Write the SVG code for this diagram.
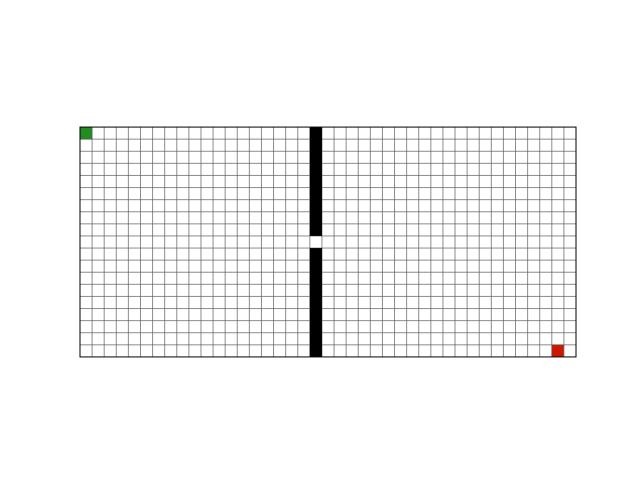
<svg xmlns="http://www.w3.org/2000/svg" width="640" height="480" viewBox="0 0 640 480">
<style>
.grid{fill:none;stroke:#5a5a5a;stroke-width:0.7}
.border{fill:none;stroke:#000;stroke-width:1}
</style>
<rect x="0" y="0" width="640" height="480" fill="#fff"/>
<g id="cells">
<rect id="start" x="80" y="127.073" width="12.098" height="12.098" fill="#228b22"/>
<rect id="goal" x="551.805" y="344.829" width="12.098" height="12.098" fill="#cc1800"/>
</g>
<path class="grid" d="M92.098 127.073V356.927M104.195 127.073V356.927M116.293 127.073V356.927M128.390 127.073V356.927M140.488 127.073V356.927M152.585 127.073V356.927M164.683 127.073V356.927M176.780 127.073V356.927M188.878 127.073V356.927M200.976 127.073V356.927M213.073 127.073V356.927M225.171 127.073V356.927M237.268 127.073V356.927M249.366 127.073V356.927M261.463 127.073V356.927M273.561 127.073V356.927M285.659 127.073V356.927M297.756 127.073V356.927M309.854 127.073V356.927M321.951 127.073V356.927M334.049 127.073V356.927M346.146 127.073V356.927M358.244 127.073V356.927M370.341 127.073V356.927M382.439 127.073V356.927M394.537 127.073V356.927M406.634 127.073V356.927M418.732 127.073V356.927M430.829 127.073V356.927M442.927 127.073V356.927M455.024 127.073V356.927M467.122 127.073V356.927M479.220 127.073V356.927M491.317 127.073V356.927M503.415 127.073V356.927M515.512 127.073V356.927M527.610 127.073V356.927M539.707 127.073V356.927M551.805 127.073V356.927M563.902 127.073V356.927M80 139.171H576M80 151.268H576M80 163.366H576M80 175.463H576M80 187.561H576M80 199.659H576M80 211.756H576M80 223.854H576M80 235.951H576M80 248.049H576M80 260.146H576M80 272.244H576M80 284.341H576M80 296.439H576M80 308.537H576M80 320.634H576M80 332.732H576M80 344.829H576"/>
<g id="wall">
<rect id="wall-top" x="309.854" y="127.073" width="12.098" height="108.878" fill="#000"/>
<rect id="wall-bottom" x="309.854" y="248.049" width="12.098" height="108.878" fill="#000"/>
</g>
<rect class="border" x="80" y="127.073" width="496" height="229.854"/>
</svg>
